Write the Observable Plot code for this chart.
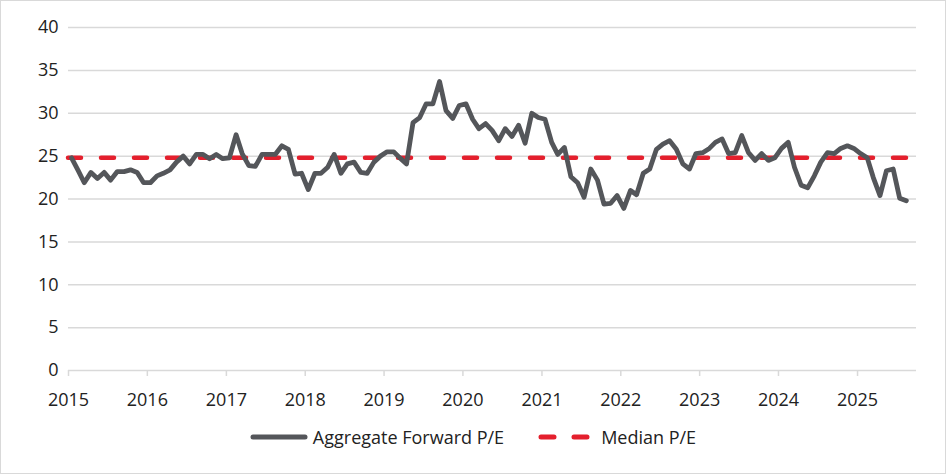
<!DOCTYPE html>
<html>
<head>
<meta charset="utf-8">
<script src="https://cdn.jsdelivr.net/npm/d3@7"></script>
<script src="https://cdn.jsdelivr.net/npm/@observablehq/plot@0.6"></script>
<style>
  body { margin: 0; background: #fff; }
  #wrap { position: relative; width: 946px; height: 474px; font-family: "Open Sans", sans-serif; }
  #frame { position: absolute; left: 0; top: 0; width: 946px; height: 474px; box-sizing: border-box; border: 1px solid #d9d9d9; pointer-events: none; }
  #legend { position: absolute; left: 0; width: 946px; top: 425px; display: flex; justify-content: center; align-items: center; font-size: 18px; color: #222; }
  .item { display: flex; align-items: center; margin: 0 17px; }
  .item svg { margin-right: 5px; }
</style>
</head>
<body>
<div id="wrap">
  <div id="chart"></div>
  <div id="legend"></div>
  <div id="frame"></div>
</div>
<script>
// monthly aggregate forward P/E, Jan 2015 .. Aug 2025
const startYear = 2015;
const forwardPE = [
  24.8, 23.3, 21.9, 23.1, 22.4, 23.1, 22.2, 23.2, 23.2, 23.4, 23.1, 21.9,
  21.9, 22.7, 23.0, 23.4, 24.3, 25.0, 24.1, 25.2, 25.2, 24.7, 25.2, 24.7,
  24.8, 27.5, 25.3, 23.9, 23.8, 25.2, 25.2, 25.2, 26.2, 25.8, 22.9, 23.0,
  21.1, 23.0, 23.0, 23.7, 25.2, 23.0, 24.1, 24.3, 23.1, 23.0, 24.3, 25.0,
  25.5, 25.5, 24.8, 24.1, 28.9, 29.5, 31.1, 31.1, 33.7, 30.3, 29.4, 30.9,
  31.1, 29.3, 28.2, 28.8, 28.0, 26.8, 28.2, 27.3, 28.6, 26.5, 30.0, 29.5,
  29.3, 26.6, 25.2, 26.0, 22.6, 21.9, 20.2, 23.5, 22.2, 19.4, 19.5, 20.4,
  18.9, 21.0, 20.5, 23.0, 23.5, 25.8, 26.4, 26.8, 25.8, 24.1, 23.5, 25.3,
  25.4, 25.9, 26.6, 27.0, 25.3, 25.4, 27.4, 25.4, 24.5, 25.3, 24.5, 24.8,
  25.9, 26.6, 23.7, 21.6, 21.3, 22.7, 24.3, 25.4, 25.3, 25.9, 26.2, 25.9,
  25.3, 24.8, 22.5, 20.4, 23.3, 23.5, 20.1, 19.8
];
const medianPE = 24.8;
const yearTicks = [2015, 2016, 2017, 2018, 2019, 2020, 2021, 2022, 2023, 2024, 2025];
const yTicks = [0, 5, 10, 15, 20, 25, 30, 35, 40];
const seriesNames = ["Aggregate Forward P/E", "Median P/E"];

const grey = "#54565a";
const red = "#e41f2d";
const gridCol = "#d9d9d9";

const rows = forwardPE.map((v, i) => ({date: new Date(Date.UTC(startYear, i, 15)), pe: v}));
const tickDates = yearTicks.map(y => new Date(Date.UTC(y, 0, 1)));

const chart = Plot.plot({
  width: 946,
  height: 410,
  marginTop: 27,
  marginBottom: 40,
  marginLeft: 68,
  marginRight: 30,
  style: {fontFamily: "'Open Sans', sans-serif", fontSize: "18px", color: "#222", background: "transparent"},
  x: {type: "utc", domain: [new Date(Date.UTC(startYear, 0, 1)), new Date(Date.UTC(2025, 9, 1))]},
  y: {domain: [0, 40]},
  marks: [
    Plot.gridY(yTicks.filter(d => d > 0), {stroke: gridCol, strokeOpacity: 1, strokeWidth: 1.5}),
    Plot.ruleY([0], {stroke: gridCol, strokeWidth: 1.5}),
    Plot.axisY(yTicks, {tickSize: 0, tickPadding: 10, label: null, fill: "#222"}),
    Plot.axisX(tickDates, {tickSize: 6, tickPadding: 17, stroke: gridCol, strokeWidth: 1.5, tickFormat: d3.utcFormat("%Y"), label: null, fill: "#222"}),
    Plot.ruleY([medianPE], {stroke: red, strokeWidth: 4.5, strokeDasharray: "13,20", strokeLinecap: "round"}),
    Plot.line(rows, {x: "date", y: "pe", stroke: grey, strokeWidth: 4.8, strokeLinejoin: "round"})
  ]
});
d3.select("#chart").append(() => chart);

// legend below the svg
const legend = d3.select("#legend");
seriesNames.forEach((name, i) => {
  const item = legend.append("div").attr("class", "item");
  const sw = item.append("svg").attr("width", 58).attr("height", 10);
  sw.append("line")
    .attr("x1", 3).attr("x2", 55).attr("y1", 5).attr("y2", 5)
    .attr("stroke", i === 0 ? grey : red)
    .attr("stroke-width", 5)
    .attr("stroke-linecap", "round")
    .attr("stroke-dasharray", i === 0 ? null : "13,20");
  item.append("span").text(name);
});
</script>
</body>
</html>
